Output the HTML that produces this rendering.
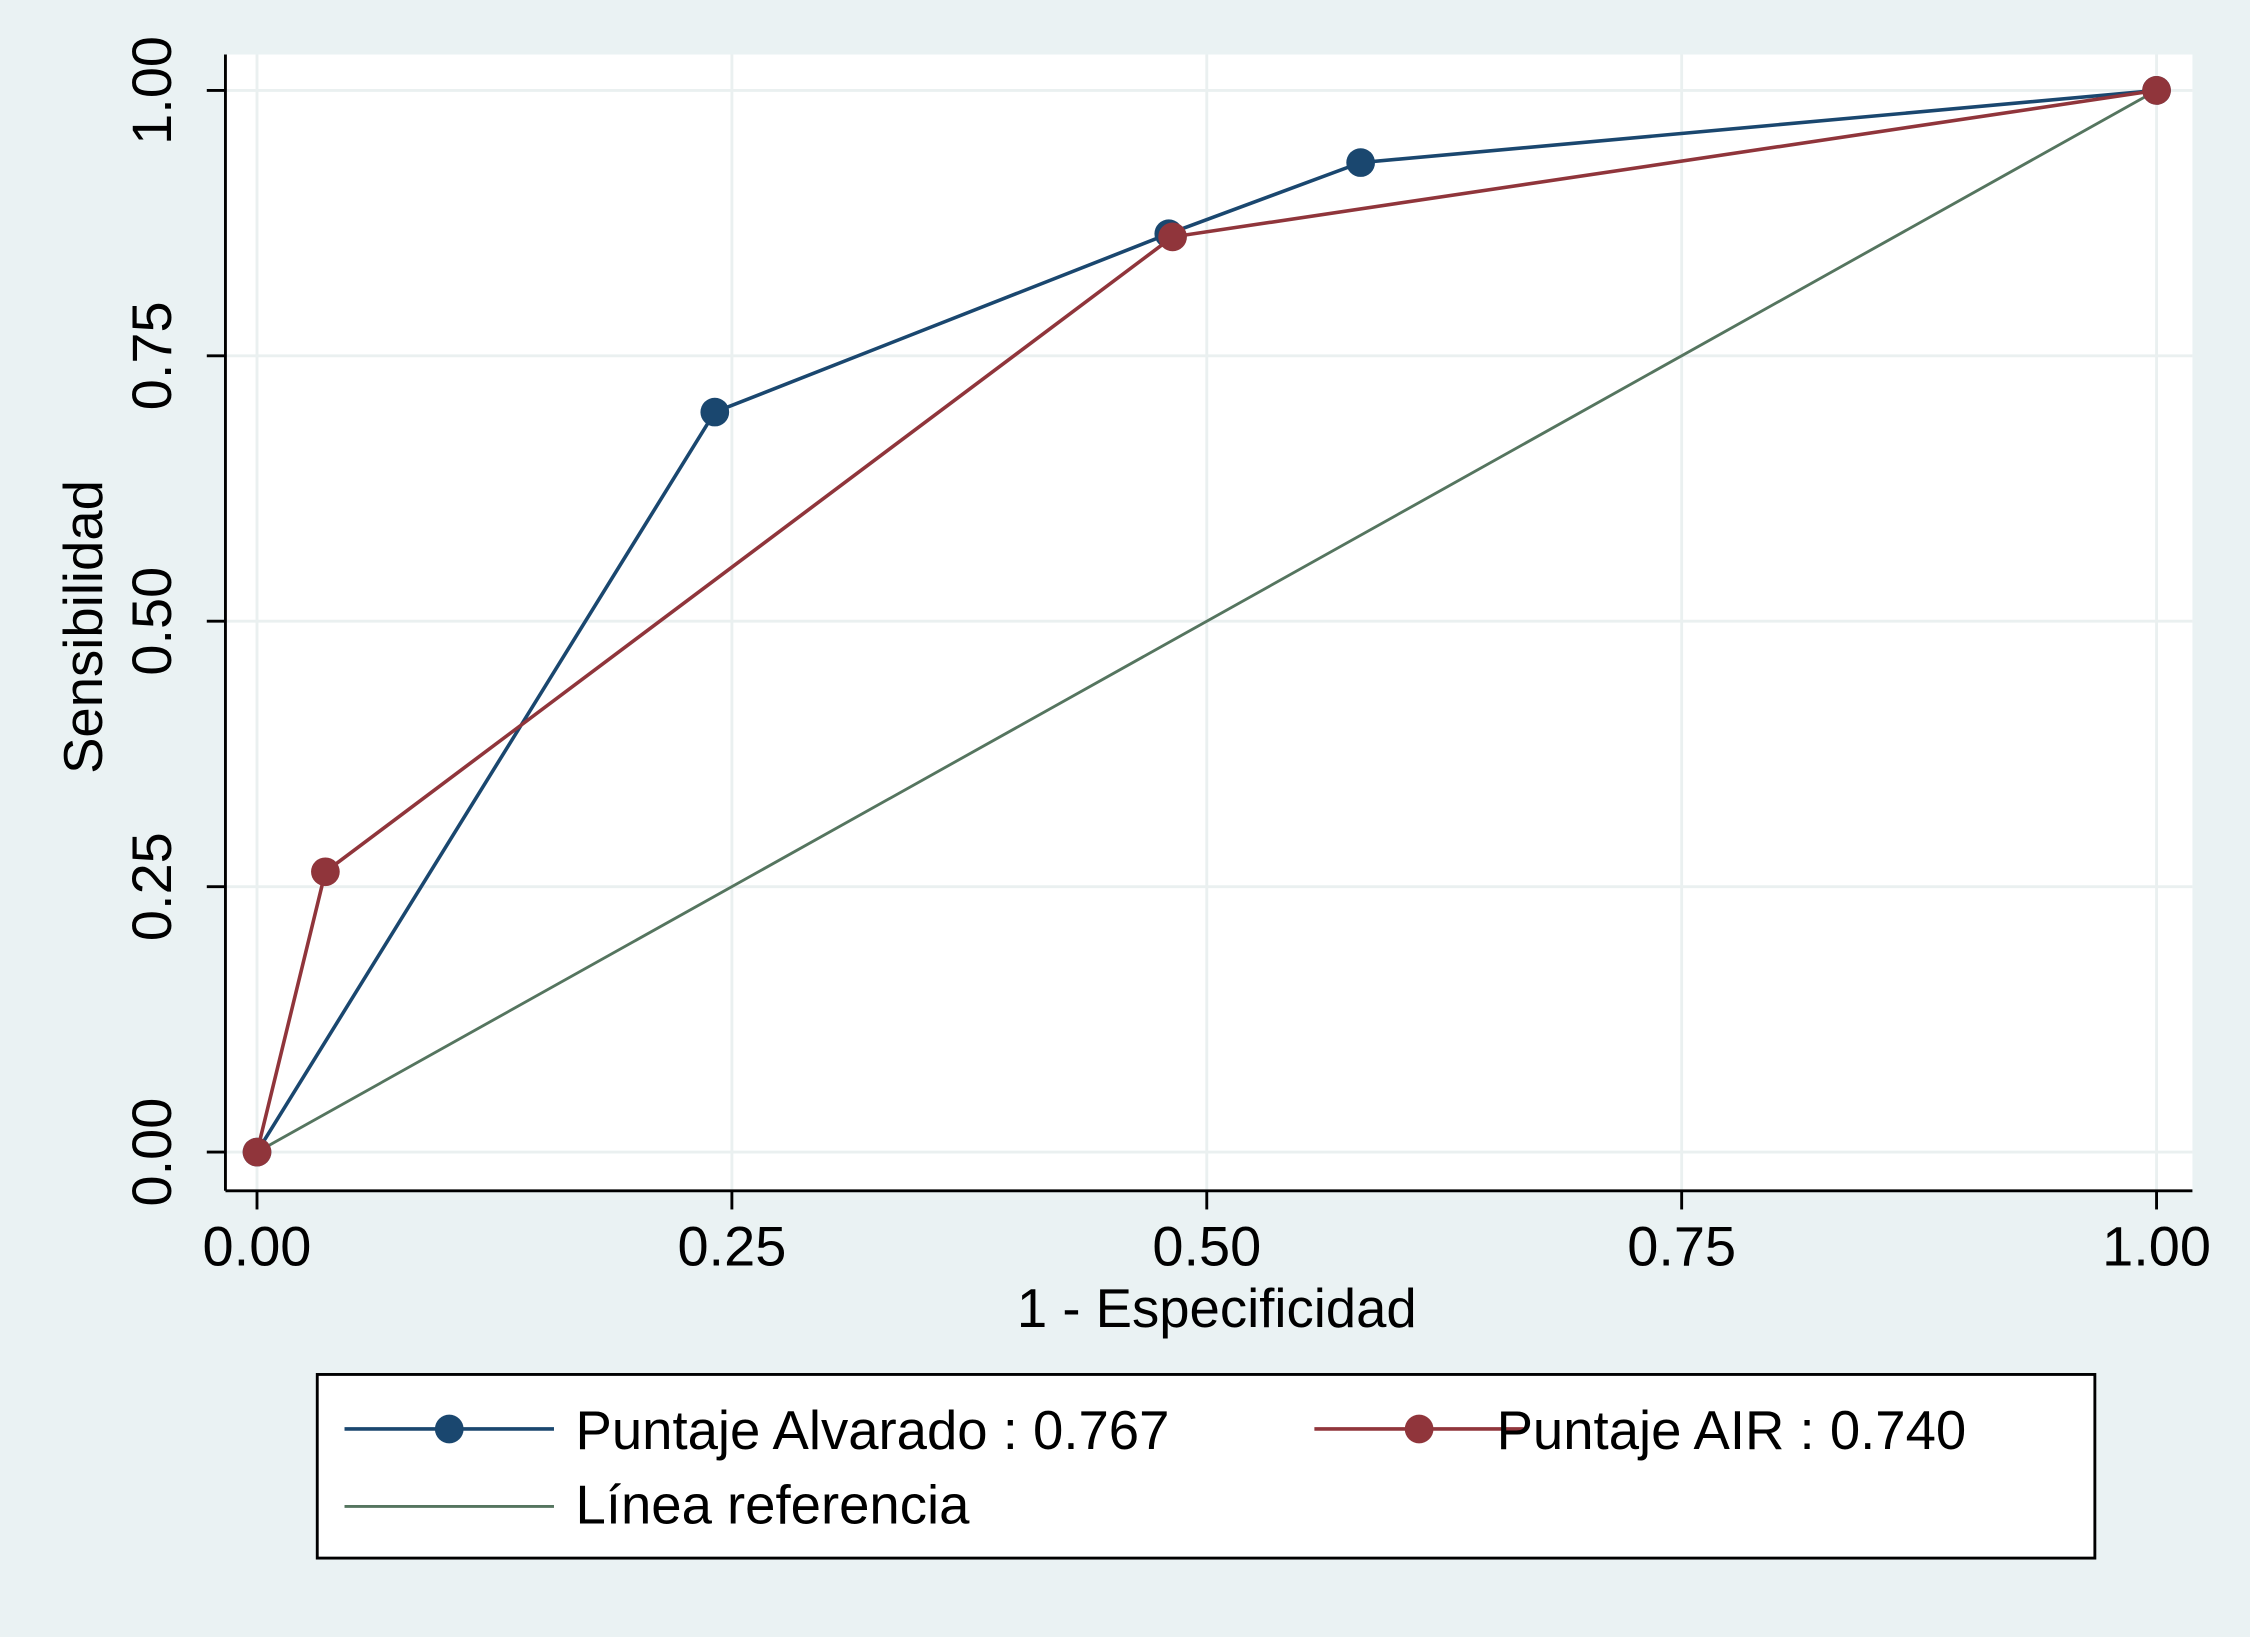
<!DOCTYPE html>
<html><head><meta charset="utf-8"><style>
html,body{margin:0;padding:0;background:#eaf2f3;}
svg{display:block;font-family:"Liberation Sans",sans-serif;}
</style></head><body>
<svg id="chart" width="2250" height="1637" viewBox="0 0 1568 1141" xmlns="http://www.w3.org/2000/svg">
<rect x="0" y="0" width="1568" height="1141" fill="#eaf2f3"/>
<rect x="157" y="38" width="1371" height="792" fill="#ffffff"/>
<g id="grid"></g>
<g id="series"></g>
<line x1="157" y1="38" x2="157" y2="830" stroke="#000" stroke-width="2"/>
<line x1="157" y1="830" x2="1528" y2="830" stroke="#000" stroke-width="2"/>
<g id="ticks"></g>
<text x="848" y="925" font-size="38" text-anchor="middle" fill="#000">1 - Especificidad</text>
<text transform="translate(71,437) rotate(-90)" font-size="38" text-anchor="middle" fill="#000">Sensibilidad</text>
<g>
<rect x="221" y="958" width="1239" height="128" fill="#fff" stroke="#000" stroke-width="2"/>
<g>
<line x1="240" y1="996" x2="386" y2="996" stroke="#1a476f" stroke-width="2.5"/>
<circle cx="313" cy="996" r="10" fill="#1a476f"/>
<text x="401" y="1010" font-size="38" fill="#000">Puntaje Alvarado : 0.767</text>
</g>
<g>
<line x1="916" y1="996" x2="1062" y2="996" stroke="#90353b" stroke-width="2.5"/>
<circle cx="989" cy="996" r="10" fill="#90353b"/>
<text x="1043" y="1010" font-size="38" fill="#000">Puntaje AIR : 0.740</text>
</g>
<g>
<line x1="240" y1="1050" x2="386" y2="1050" stroke="#55755f" stroke-width="2"/>
<text x="401" y="1062" font-size="38" fill="#000">Línea referencia</text>
</g>
</g>
</svg>
<script>
const tickValues=[0,0.25,0.5,0.75,1];
const tickLabels=["0.00","0.25","0.50","0.75","1.00"];
const alvaradoX=[0,0.241,0.48,0.581,1];
const alvaradoY=[0,0.697,0.865,0.932,1];
const airX=[0,0.036,0.482,1];
const airY=[0,0.264,0.862,1];
const refX=[0,1];
const refY=[0,1];
const NS="http://www.w3.org/2000/svg";
const sx=v=>179+v*1324;
const sy=v=>803-v*740;
function mk(tag,attrs,parent){const e=document.createElementNS(NS,tag);for(const k in attrs)e.setAttribute(k,attrs[k]);parent.appendChild(e);return e;}
const grid=document.getElementById('grid'),ticks=document.getElementById('ticks'),series=document.getElementById('series');
tickValues.forEach((v,i)=>{
  let g1=mk('line',{x1:157,x2:1528,y1:sy(v),y2:sy(v),stroke:'#eaf0f0','stroke-width':2},grid);
  
  
  let g2=mk('line',{x1:sx(v),x2:sx(v),y1:38,y2:830,stroke:'#eaf0f0','stroke-width':2},grid);
  
  
  let t1=mk('line',{x1:sx(v),x2:sx(v),y1:830,y2:843,stroke:'#000','stroke-width':2},ticks);
  
  
  let l1=mk('text',{x:sx(v),y:882,'font-size':39,'text-anchor':'middle',fill:'#000'},ticks);
  l1.textContent=tickLabels[i];
  
  
  let t2=mk('line',{x1:144,x2:157,y1:sy(v),y2:sy(v),stroke:'#000','stroke-width':2},ticks);
  
  
  let l2=mk('text',{transform:`translate(119,${sy(v)}) rotate(-90)`,'font-size':39,'text-anchor':'middle',fill:'#000'},ticks);
  l2.textContent=tickLabels[i];
  
  
});
function line(xs,ys,color,w,name,markers){
  const pts=xs.map((x,i)=>sx(x)+','+sy(ys[i])).join(' ');
  const p=mk('polyline',{points:pts,fill:'none',stroke:color,'stroke-width':w},series);
  
  
  if(markers)xs.forEach((x,i)=>{
    const c=mk('circle',{cx:sx(x),cy:sy(ys[i]),r:10,fill:color},series);
    
    
  });
}
line(refX,refY,'#55755f',2,'reference',false);
line(alvaradoX,alvaradoY,'#1a476f',2.5,'alvarado',true);
line(airX,airY,'#90353b',2.5,'air',true);
</script>
</body></html>
